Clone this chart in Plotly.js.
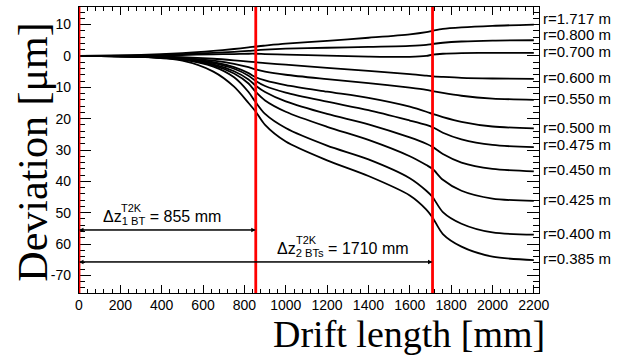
<!DOCTYPE html>
<html>
<head>
<meta charset="utf-8">
<script src="https://cdn.plot.ly/plotly-3.0.1.min.js"></script>
<style>html,body{margin:0;padding:0;background:#fff;}#chart{width:629px;height:356px;}</style>
</head>
<body>
<div id="chart"></div>
<script>
// ---- data ----
const driftLength = [0, 300, 500, 650, 750, 820, 855, 900, 1000, 1200, 1400, 1600, 1680, 1710, 1760, 1850, 2000, 2200];
const radiusLabels = ["r=1.717 m", "r=0.800 m", "r=0.700 m", "r=0.600 m", "r=0.550 m", "r=0.500 m", "r=0.475 m", "r=0.450 m", "r=0.425 m", "r=0.400 m", "r=0.385 m"];
const dev_r1717 = [0, 0.3, 0.9, 1.6, 2.2, 2.7, 3.0, 3.3, 3.9, 4.8, 5.8, 6.9, 7.6, 8.0, 8.6, 9.1, 9.6, 10.0];
const dev_r0800 = [0, 0.2, 0.6, 1.0, 1.3, 1.6, 1.8, 2.0, 2.3, 2.6, 2.9, 3.2, 3.5, 3.8, 4.2, 4.6, 4.9, 5.0];
const dev_r0700 = [0, 0.1, 0.3, 0.5, 0.6, 0.7, 0.7, 0.6, 0.4, 0.1, -0.2, -0.3, 0.0, 0.4, 0.7, 0.9, 1.0, 1.0];
const dev_r0600 = [0, -0.1, -0.4, -0.9, -1.4, -1.8, -2.0, -2.3, -2.8, -3.8, -4.8, -5.8, -6.3, -6.5, -6.7, -7.0, -7.2, -7.3];
const dev_r0550 = [0, -0.15, -0.6, -1.5, -2.5, -3.6, -4.3, -5.0, -6.0, -7.4, -8.7, -10.1, -10.8, -11.2, -11.8, -12.7, -13.6, -14.0];
const dev_r0500 = [0, -0.2, -0.8, -2.0, -3.6, -5.5, -6.8, -7.8, -9.3, -11.4, -13.4, -16.2, -17.8, -18.5, -19.5, -21.0, -22.5, -23.1];
const dev_r0475 = [0, -0.2, -0.9, -2.3, -4.1, -6.3, -8.0, -9.6, -11.7, -14.6, -17.3, -20.6, -22.0, -22.7, -24.5, -26.6, -28.4, -29.1];
const dev_r0450 = [0, -0.25, -1.0, -2.7, -4.9, -7.5, -9.5, -11.5, -14.5, -18.5, -21.8, -26.0, -28.0, -29.0, -31.3, -34.0, -36.0, -36.8];
const dev_r0425 = [0, -0.3, -1.1, -3.0, -5.6, -8.8, -11.5, -14.2, -17.8, -22.6, -26.8, -32.0, -34.8, -36.0, -39.5, -43.0, -45.5, -46.2];
const dev_r0400 = [0, -0.3, -1.2, -3.4, -6.8, -11.5, -14.8, -18.5, -23.0, -28.6, -33.0, -39.0, -43.0, -45.0, -49.8, -53.5, -56.3, -57.0];
const dev_r0385 = [0, -0.35, -1.5, -5.0, -9.8, -15.0, -17.8, -22.0, -27.3, -33.3, -38.3, -44.5, -49.0, -51.5, -56.8, -60.8, -64.0, -65.1];
const deviations = [dev_r1717, dev_r0800, dev_r0700, dev_r0600, dev_r0550, dev_r0500, dev_r0475, dev_r0450, dev_r0425, dev_r0400, dev_r0385];
const boundaryPositions = [0, 855, 1710];
const spanEnds = [855, 1710];
const spanLevels = [-55.5, -65.7];
const yTickVals = [10, 0, -10, -20, -30, -40, -50, -60, -70];
const yTickText = ["10", "0", "10", "20", "30", "40", "50", "60", "-70"];
const xTickVals = [0, 200, 400, 600, 800, 1000, 1200, 1400, 1600, 1800, 2000, 2200];

// ---- styling ----
const labelShift = [6, 6, 1, 1, 1, 1, 3, 2, 1, 1, 2];
const sans = "Liberation Sans, Arial, Helvetica, sans-serif";
const serif = "Liberation Serif, Times New Roman, serif";

const traces = deviations.map((d, i) => ({
  x: driftLength, y: d, type: "scatter", mode: "lines",
  line: {color: "#000", width: 1.8, shape: "spline", smoothing: 0.8},
  name: radiusLabels[i], showlegend: false, hoverinfo: "skip"
}));

const shapes = boundaryPositions.map(b => ({
  type: "line", xref: "x", yref: "paper", x0: b, x1: b, y0: 0, y1: 1,
  line: {color: "rgb(255,0,0)", width: 2.8}, layer: "above"
}));

const annotations = [];
radiusLabels.forEach((t, i) => {
  const d = deviations[i];
  annotations.push({
    x: 1, xref: "paper", y: d[d.length - 1], yref: "y", text: t, showarrow: false,
    xanchor: "left", yanchor: "middle", xshift: 2, yshift: labelShift[i],
    font: {family: sans, size: 15, color: "#000"}
  });
});
// double-headed span arrows
spanEnds.forEach((e, k) => {
  annotations.push({x: e, y: spanLevels[k], ax: 0, ay: spanLevels[k], xref: "x", yref: "y", axref: "x", ayref: "y",
    text: "", showarrow: true, arrowhead: 2, arrowsize: 0.9, arrowwidth: 1, arrowcolor: "#000"});
  annotations.push({x: 0, y: spanLevels[k], ax: e, ay: spanLevels[k], xref: "x", yref: "y", axref: "x", ayref: "y",
    text: "", showarrow: true, arrowhead: 2, arrowsize: 0.9, arrowwidth: 1, arrowcolor: "#000"});
});
// span labels
annotations.push({x: 0, xref: "x", y: spanLevels[0], yref: "y", xanchor: "left", yanchor: "bottom", xshift: 22, yshift: 1,
  text: "Δz<sub>1 BT</sub> = 855 mm", showarrow: false, font: {family: sans, size: 16, color: "#000"}});
annotations.push({x: 0, xref: "x", y: spanLevels[0], yref: "y", xanchor: "left", yanchor: "bottom", xshift: 40, yshift: 14,
  text: "T2K", showarrow: false, font: {family: sans, size: 11, color: "#000"}});
annotations.push({x: spanEnds[0], xref: "x", y: spanLevels[1], yref: "y", xanchor: "left", yanchor: "bottom", xshift: 19, yshift: 1,
  text: "Δz<sub>2 BTs</sub> = 1710 mm", showarrow: false, font: {family: sans, size: 16, color: "#000"}});
annotations.push({x: spanEnds[0], xref: "x", y: spanLevels[1], yref: "y", xanchor: "left", yanchor: "bottom", xshift: 38, yshift: 14,
  text: "T2K", showarrow: false, font: {family: sans, size: 11, color: "#000"}});
// axis titles (ROOT-style placement)
annotations.push({x: 1, xref: "paper", y: -0.145, yref: "paper", xanchor: "right", yanchor: "middle", xshift: 7,
  text: "Drift length [mm]", showarrow: false, borderpad: 0, font: {family: serif, size: 38, color: "#000"}});
annotations.push({x: -0.102, xref: "paper", y: 0.491, yref: "paper", xanchor: "center", yanchor: "middle", textangle: -90,
  text: "Deviation [μm]", showarrow: false, font: {family: serif, size: 42, color: "#000"}});

const axisCommon = {
  showgrid: false, zeroline: false, showline: true, linecolor: "#000", linewidth: 1.2, mirror: "ticks",
  ticks: "inside", tickcolor: "#000", tickwidth: 1,
  tickfont: {family: sans, size: 14, color: "#000"}
};

const layout = {
  width: 629, height: 356,
  margin: {l: 79, r: 90, t: 7, b: 63},
  paper_bgcolor: "#fff", plot_bgcolor: "#fff",
  showlegend: false,
  xaxis: Object.assign({}, axisCommon, {
    range: [0, 2225], tickmode: "array", tickvals: xTickVals, ticklen: 8,
    minor: {dtick: 40, tick0: 0, ticks: "inside", ticklen: 4, tickcolor: "#000", tickwidth: 1, showgrid: false},
    ticklabelstandoff: -1
  }),
  yaxis: Object.assign({}, axisCommon, {
    range: [-75.6, 15.6], tickmode: "array", tickvals: yTickVals, ticktext: yTickText, ticklen: 12,
    minor: {dtick: 2, tick0: 0, ticks: "inside", ticklen: 6, tickcolor: "#000", tickwidth: 1, showgrid: false},
    ticklabelstandoff: 4
  }),
  shapes: shapes,
  annotations: annotations
};

Plotly.newPlot("chart", traces, layout, {displayModeBar: false, staticPlot: true});
</script>
</body>
</html>
